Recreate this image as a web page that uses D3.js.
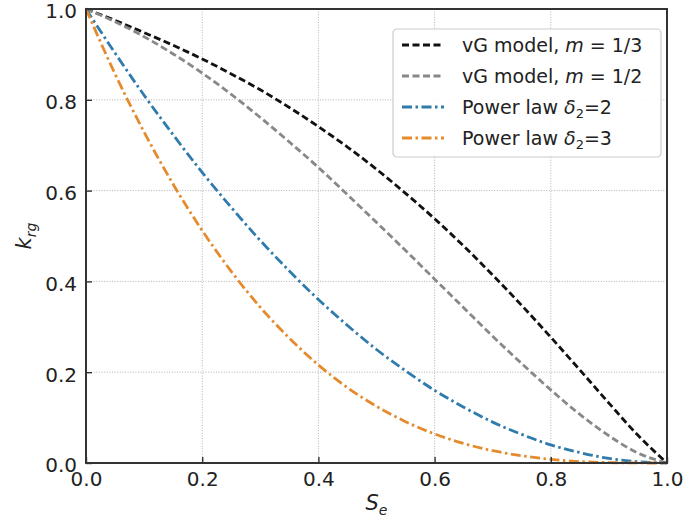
<!DOCTYPE html>
<html>
<head>
<meta charset="utf-8">
<script src="https://cdn.jsdelivr.net/npm/d3@7"></script>
<style>
body { margin: 0; background: #fff; }
text { font-family: "DejaVu Sans", sans-serif; fill: #222; }
</style>
</head>
<body>
<div id="chart"></div>
<script>
const width = 686
const height = 524
const margin = {top: 9, bottom: 61, left: 86, right: 19}

// saturation values (x)
const se = [0, 0.05, 0.1, 0.15, 0.2, 0.25, 0.3, 0.35, 0.4, 0.45, 0.5,
            0.55, 0.6, 0.65, 0.7, 0.75, 0.8, 0.85, 0.9, 0.95, 1.0]

// relative permeability values
const vgThird = [1, 0.975, 0.948, 0.920, 0.890, 0.857, 0.822, 0.783, 0.741, 0.696, 0.647,
                 0.594, 0.538, 0.478, 0.414, 0.347, 0.277, 0.205, 0.132, 0.061, 0]
const vgHalf = [1, 0.972, 0.939, 0.901, 0.859, 0.812, 0.761, 0.707, 0.651, 0.591, 0.530,
                0.468, 0.405, 0.342, 0.279, 0.219, 0.161, 0.107, 0.060, 0.022, 0]
const powerTwo = [1, 0.903, 0.810, 0.723, 0.640, 0.563, 0.490, 0.423, 0.360, 0.303, 0.250,
                  0.203, 0.160, 0.123, 0.090, 0.063, 0.040, 0.023, 0.010, 0.003, 0]
const powerThree = [1, 0.857, 0.729, 0.614, 0.512, 0.422, 0.343, 0.275, 0.216, 0.166, 0.125,
                    0.091, 0.064, 0.043, 0.027, 0.016, 0.008, 0.003, 0.001, 0.0001, 0]

const ticks = [0, 0.2, 0.4, 0.6, 0.8, 1.0]

const series = [
    {name: "vG model, ", math: "m", rest: " = 1/3", values: vgThird, color: "#111", dash: "7,3.5"},
    {name: "vG model, ", math: "m", rest: " = 1/2", values: vgHalf, color: "#888", dash: "7,3.5"},
    {name: "Power law ", delta: "2", values: powerTwo, color: "#2f7bad", dash: "10,3.5,2.5,3.5"},
    {name: "Power law ", delta: "3", values: powerThree, color: "#e58b2e", dash: "10,3.5,2.5,3.5"}
]

const innerW = width - margin.left - margin.right
const innerH = height - margin.top - margin.bottom

const svg = d3.select("#chart").append("svg").attr("width", width).attr("height", height)
const g = svg.append("g").attr("transform", `translate(${margin.left}, ${margin.top})`)

const x = d3.scaleLinear().domain([0, 1]).range([0, innerW])
const y = d3.scaleLinear().domain([0, 1]).range([innerH, 0])

// grid
g.append("g").selectAll("line.vg").data(ticks.slice(1, -1)).join("line")
    .attr("x1", d => x(d)).attr("x2", d => x(d)).attr("y1", 0).attr("y2", innerH)
    .attr("stroke", "#aaa").attr("stroke-width", 0.9).attr("stroke-dasharray", "1,1.6")
g.append("g").selectAll("line.hg").data(ticks.slice(1, -1)).join("line")
    .attr("y1", d => y(d)).attr("y2", d => y(d)).attr("x1", 0).attr("x2", innerW)
    .attr("stroke", "#aaa").attr("stroke-width", 0.9).attr("stroke-dasharray", "1,1.6")

// curves
const line = d3.line().x((d, i) => x(se[i])).y(d => y(d)).curve(d3.curveMonotoneX)
g.append("g").selectAll("path").data(series).join("path")
    .attr("d", d => line(d.values))
    .attr("fill", "none")
    .attr("stroke", d => d.color)
    .attr("stroke-width", 2.8)
    .attr("stroke-dasharray", d => d.dash)

// axes with inward ticks
const xAxis = d3.axisBottom(x).tickValues(ticks).tickFormat(d3.format(".1f")).tickSizeInner(-6).tickSizeOuter(0).tickPadding(9)
const yAxis = d3.axisLeft(y).tickValues(ticks).tickFormat(d3.format(".1f")).tickSizeInner(-6).tickSizeOuter(0).tickPadding(9)
const xg = g.append("g").attr("transform", `translate(0, ${innerH})`).call(xAxis)
const yg = g.append("g").call(yAxis)
;[xg, yg].forEach(a => {
    a.select(".domain").remove()
    a.selectAll(".tick line").attr("stroke", "#333").attr("stroke-width", 1.4)
    a.selectAll(".tick text").attr("font-size", 20).attr("fill", "#222")
})
yg.selectAll(".tick text").attr("dy", "0.44em")

// frame
g.append("rect").attr("width", innerW).attr("height", innerH)
    .attr("fill", "none").attr("stroke", "#333").attr("stroke-width", 2)

// axis labels
svg.append("text").attr("x", margin.left + innerW / 2).attr("y", 510)
    .attr("text-anchor", "middle").attr("font-size", 21).attr("font-style", "italic")
    .text("S").append("tspan").attr("font-size", 14).attr("dy", 5).text("e")
svg.append("text").attr("transform", `translate(31, ${margin.top + innerH / 2}) rotate(-90)`)
    .attr("text-anchor", "middle").attr("font-size", 21).attr("font-style", "italic")
    .text("k").append("tspan").attr("font-size", 14).attr("dy", 5).text("rg")

// legend
const legend = svg.append("g").attr("transform", "translate(393, 29)")
legend.append("rect").attr("width", 268).attr("height", 128).attr("rx", 4)
    .attr("fill", "#fff").attr("fill-opacity", 0.9).attr("stroke", "#ccc").attr("stroke-width", 1.2)
const rows = legend.selectAll("g.row").data(series).join("g")
    .attr("transform", (d, i) => `translate(0, ${16 + i * 31})`)
rows.append("line").attr("x1", 9).attr("x2", 51).attr("y1", 0).attr("y2", 0)
    .attr("stroke", d => d.color).attr("stroke-width", 2.8).attr("stroke-dasharray", d => d.dash)
const label = rows.append("text").attr("x", 69).attr("y", 7).attr("font-size", 19)
label.append("tspan").text(d => d.name)
label.filter(d => d.math).append("tspan").attr("font-style", "italic").text(d => d.math)
label.filter(d => d.math).append("tspan").text(d => d.rest)
label.filter(d => d.delta).append("tspan").attr("font-style", "italic").text("δ")
label.filter(d => d.delta).append("tspan").attr("font-size", 13).attr("dy", 4).text("2")
label.filter(d => d.delta).append("tspan").attr("dy", -4).text(d => "=" + d.delta)
</script>
</body>
</html>
